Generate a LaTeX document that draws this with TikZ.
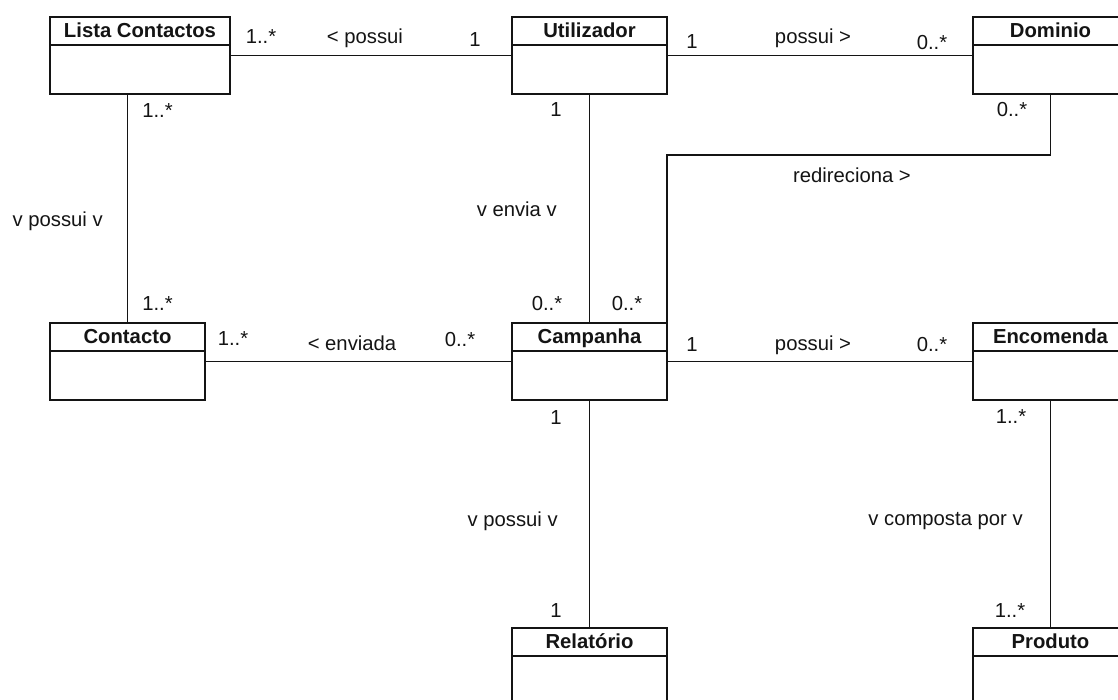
\documentclass[tikz,border=0pt]{standalone}
\usepackage{fontspec}
\setmainfont{Liberation Sans}
\usetikzlibrary{calc}
\definecolor{ink}{RGB}{20,20,20}

% class box: name, left x, top y, width, title
\newcommand\umlclass[5]{%
  \node[classbox, minimum width=#4*0.75pt, anchor=north west] (#1) at (#2,#3) {};
  \node[classtitle] (#1-title) at ($(#1.north)+(0,21.8)$) {#5};
  \draw[classline] ($(#1.north west)+(0,29)$) -- ($(#1.north east)+(0,29)$);
}

\begin{document}
\begin{tikzpicture}[x=0.75pt,y=-0.75pt,
  classbox/.style={draw=ink, line width=1.5pt, fill=white, inner sep=0pt, minimum height=77*0.75pt},
  classline/.style={draw=ink, line width=1.5pt},
  classtitle/.style={font=\fontsize{15.2}{18}\selectfont\bfseries, inner sep=0pt, anchor=base, text=ink},
  assoc/.style={draw=ink, line width=1.3pt},
  lbl/.style={font=\fontsize{15.2}{18}\selectfont, inner sep=0pt, anchor=base, text=ink},
]
\useasboundingbox (0,0) rectangle (1118,700);
\clip (0,0) rectangle (1118,700);
\fill[white] (0,0) rectangle (1118,700);

% height of the horizontal run of the "redireciona" link
\coordinate (redirY) at (0,155);

% classes
\umlclass{lista}{49}{16}{180}{Lista Contactos}
\umlclass{util}{511}{16}{155}{Utilizador}
\umlclass{dom}{972}{16}{155}{Dominio}
\umlclass{cont}{49}{322}{155}{Contacto}
\umlclass{camp}{511}{322}{155}{Campanha}
\umlclass{enc}{972}{322}{155}{Encomenda}
\umlclass{rel}{511}{627}{155}{Relatório}
\umlclass{prod}{972}{627}{155}{Produto}

% associations
\draw[assoc] (lista.east) -- (util.west);
\draw[assoc] (util.east) -- (dom.west);
\draw[assoc] (cont.north |- lista.south) -- (cont.north);
\draw[assoc] (util.south) -- (camp.north);
\draw[assoc] (dom.south) |- ($(camp.north east |- redirY)+(-1,0)$) -- ($(camp.north east)+(-1,0)$);
\draw[assoc] (cont.east) -- (camp.west);
\draw[assoc] (camp.east) -- (enc.west);
\draw[assoc] (camp.south) -- (rel.north);
\draw[assoc] (enc.south) -- (prod.north);

% multiplicities and role names, top row
\node[lbl] (m1) at (261,43) {1..*};
\node[lbl] (r1) at (365,43) {< possui};
\node[lbl] (m2) at (475,46) {1};
\node[lbl] (m3) at (692,48) {1};
\node[lbl] (r2) at (813,43) {possui >};
\node[lbl] (m4) at (932,49) {0..*};

% vertical associations, upper half
\node[lbl, anchor=base west] (m5) at (142,117) {1..*};
\node[lbl, anchor=base east] (r3) at (103,226) {v possui v};
\node[lbl, anchor=base west] (m6) at (142,310) {1..*};
\node[lbl] (m7) at (556,116) {1};
\node[lbl, anchor=base east] (r4) at (557,216) {v envia v};
\node[lbl] (m8) at (547,310) {0..*};
\node[lbl] (m9) at (627,310) {0..*};
\node[lbl] (m10) at (1012,116) {0..*};
\node[lbl] (r5) at (852,182) {redireciona >};

% middle row
\node[lbl] (m11) at (233,345) {1..*};
\node[lbl] (r6) at (352,350) {< enviada};
\node[lbl] (m12) at (460,346) {0..*};
\node[lbl] (m13) at (692,351) {1};
\node[lbl] (r7) at (813,350) {possui >};
\node[lbl] (m14) at (932,351) {0..*};

% lower half
\node[lbl] (m15) at (556,424) {1};
\node[lbl, anchor=base east] (r8) at (558,526) {v possui v};
\node[lbl] (m16) at (556,617) {1};
\node[lbl] (m17) at (1011,423) {1..*};
\node[lbl, anchor=base east] (r9) at (1023,525) {v composta por v};
\node[lbl] (m18) at (1010,617) {1..*};
\end{tikzpicture}
\end{document}
